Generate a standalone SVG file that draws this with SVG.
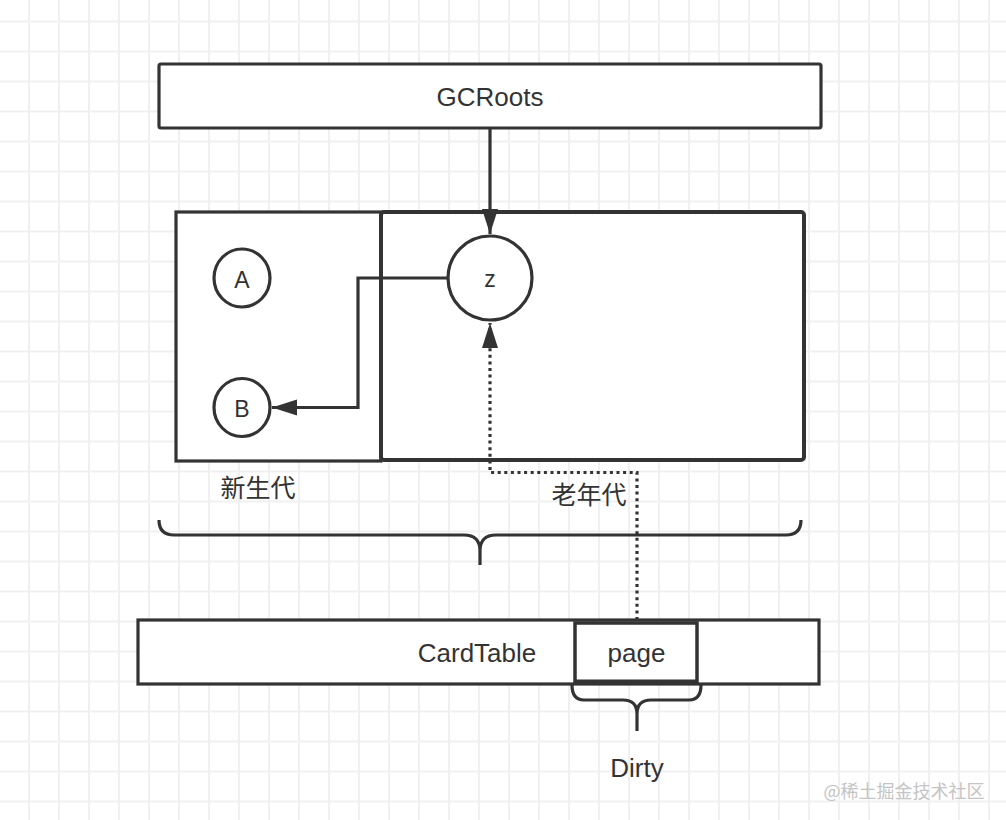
<svg xmlns="http://www.w3.org/2000/svg" width="1006" height="820" viewBox="0 0 1006 820">
<defs>
<pattern id="grid" patternUnits="userSpaceOnUse" x="14" y="6.5" width="30" height="30">
<path d="M15,0 V30 M0,15 H30" stroke="#f0f0f0" stroke-width="2" fill="none"/>
</pattern>
<marker id="arr" markerUnits="userSpaceOnUse" markerWidth="26" markerHeight="18" refX="25" refY="8" orient="auto">
<path d="M0,0 L25,8 L0,16 Z" fill="#333" stroke="none"/>
</marker>
<style>
.box{fill:#fff;stroke:#333;stroke-width:3.2}
.line{fill:none;stroke:#333;stroke-width:3.2}
.dot{fill:none;stroke:#333;stroke-width:3.2;stroke-dasharray:3 3.6}
.lbl{font-family:"Liberation Sans",Arial,sans-serif;font-size:26px;fill:#333;text-anchor:middle}
.cjk{font-family:"Noto Sans CJK SC","Noto Sans",sans-serif;font-size:25px;fill:#333;text-anchor:middle}
</style>
</defs>
<rect width="1006" height="820" fill="#fff"/>
<rect width="1006" height="820" fill="url(#grid)"/>

<g id="gcroots">
<rect class="box" x="159" y="64" width="662" height="64" rx="2"/>
<text class="lbl" x="490" y="106">GCRoots</text>
</g>

<g id="young">
<rect class="box" x="176" y="212" width="205" height="249"/>
<text class="cjk" x="258" y="497">新生代</text>
</g>

<g id="old">
<rect class="box" x="381" y="212" width="423" height="248" rx="3" style="stroke-width:4"/>
<text class="cjk" x="589" y="504">老年代</text>
</g>

<g id="nodeA">
<ellipse class="box" cx="242" cy="278" rx="28" ry="29"/>
<text class="lbl" x="242" y="288" style="font-size:23px">A</text>
</g>
<g id="nodeB">
<ellipse class="box" cx="242" cy="407.5" rx="28" ry="29"/>
<text class="lbl" x="242" y="417" style="font-size:23px">B</text>
</g>
<g id="nodeZ">
<circle class="box" cx="490" cy="278" r="42"/>
<text class="lbl" x="490" y="287" style="font-size:23px">z</text>
</g>

<g id="braces">
<path class="line" d="M159,520 Q159,535 174,535 L464,535 Q480,535 480,551 L480,565 M801,520 Q801,535 786,535 L496,535 Q480,535 480,551"/>
<path class="line" d="M572,685 Q572,700 584,700 L623,700 Q637,700 637,714 L637,731 M701,685 Q701,700 689,700 L651,700 Q637,700 637,714"/>
</g>

<g id="cardtable">
<rect class="box" x="138" y="620" width="681" height="64"/>
<text class="lbl" x="477" y="662">CardTable</text>
</g>
<g id="page">
<rect class="box" x="575" y="623" width="122" height="59" style="stroke-width:3.5"/>
<line x1="575" y1="682" x2="697" y2="682" stroke="#333" stroke-width="5"/>
<text class="lbl" x="636.5" y="662">page</text>
</g>

<g id="dirty">
<text class="lbl" x="637" y="777">Dirty</text>
</g>

<g id="connectors">
<path class="line" d="M490,128 V234" marker-end="url(#arr)"/>
<path class="line" d="M448,278 H358 V407.5 H272" marker-end="url(#arr)"/>
<path class="dot" d="M637,620 V472.5 H490 V323" marker-end="url(#arr)"/>
</g>

<text x="904" y="798" style="font-family:'Noto Sans CJK SC','Noto Sans',sans-serif;font-size:18px;fill:#c4c4c4;text-anchor:middle">@稀土掘金技术社区</text>
</svg>
